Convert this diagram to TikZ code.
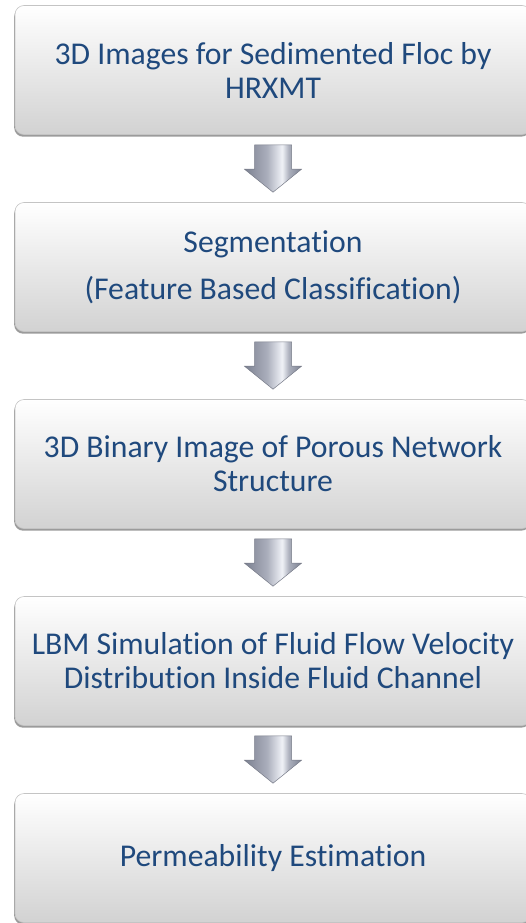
\documentclass[tikz,border=0pt]{standalone}
\usepackage{fontspec}
\setmainfont{Carlito}[Ligatures=NoCommon]
\usepackage{tikz}
\usetikzlibrary{calc, shadows}

\definecolor{stepblue}{HTML}{1F497D}
\definecolor{boxgray}{HTML}{D2D2D2}
\definecolor{boxedge}{HTML}{C4C4C4}
\definecolor{arrowdark}{HTML}{7C8191}
\definecolor{arrowmid}{HTML}{ABAFBC}
\definecolor{arrowlight}{HTML}{F0F2F7}
\definecolor{arrowedge}{HTML}{777B88}

\pgfdeclarehorizontalshading{arrowshade}{100bp}{color(0bp)=(arrowdark); color(25bp)=(arrowdark); color(45bp)=(arrowmid); color(58bp)=(arrowlight); color(64bp)=(arrowmid); color(75bp)=(arrowdark); color(100bp)=(arrowdark)}

% block arrow from the bottom of one step to the top of the next
\newcommand{\stepflow}[2]{%
  \path[flowarrow] let \p1=(#1.south), \p2=(#2.north) in
    (\x1-18.5pt,\y1-10pt) -- (\x1+18.5pt,\y1-10pt) -- (\x1+18.5pt,\y2+33pt)
    -- (\x1+28.5pt,\y2+33pt) -- (\x1,\y2+10pt) -- (\x1-28.5pt,\y2+33pt)
    -- (\x1-18.5pt,\y2+33pt) -- cycle;
}

\begin{document}
\begin{tikzpicture}[
  x=1pt, y=-1pt,
  stepbox/.style={rounded corners=9pt, minimum width=516pt, minimum height=129pt, align=center,
    text=stepblue, font=\fontsize{31.7}{34}\selectfont,
    top color=white, bottom color=boxgray, draw=boxedge, line width=0.6pt,
    drop shadow={shadow xshift=-0.8pt, shadow yshift=-2.2pt, opacity=0.6, fill=black!65}},
  flowarrow/.style={shading=arrowshade, draw=arrowedge, line width=0.5pt, line join=miter}
]
\useasboundingbox (0,0) rectangle (526,923);

% === steps ===
\node[stepbox] (st1) at (273,70) {3D Images for Sedimented Floc by\\HRXMT};
\node[stepbox] (st2) at (273,267) {Segmentation\\[13pt](Feature Based Classification)};
\node[stepbox] (st3) at (273,464) {3D Binary Image of Porous Network\\Structure};
\node[stepbox] (st4) at (273,661) {LBM Simulation of Fluid Flow Velocity\\Distribution Inside Fluid Channel};
\node[stepbox] (st5) at (273,858) {Permeability Estimation};

% === arrows ===
\stepflow{st1}{st2}
\stepflow{st2}{st3}
\stepflow{st3}{st4}
\stepflow{st4}{st5}

\end{tikzpicture}
\end{document}
